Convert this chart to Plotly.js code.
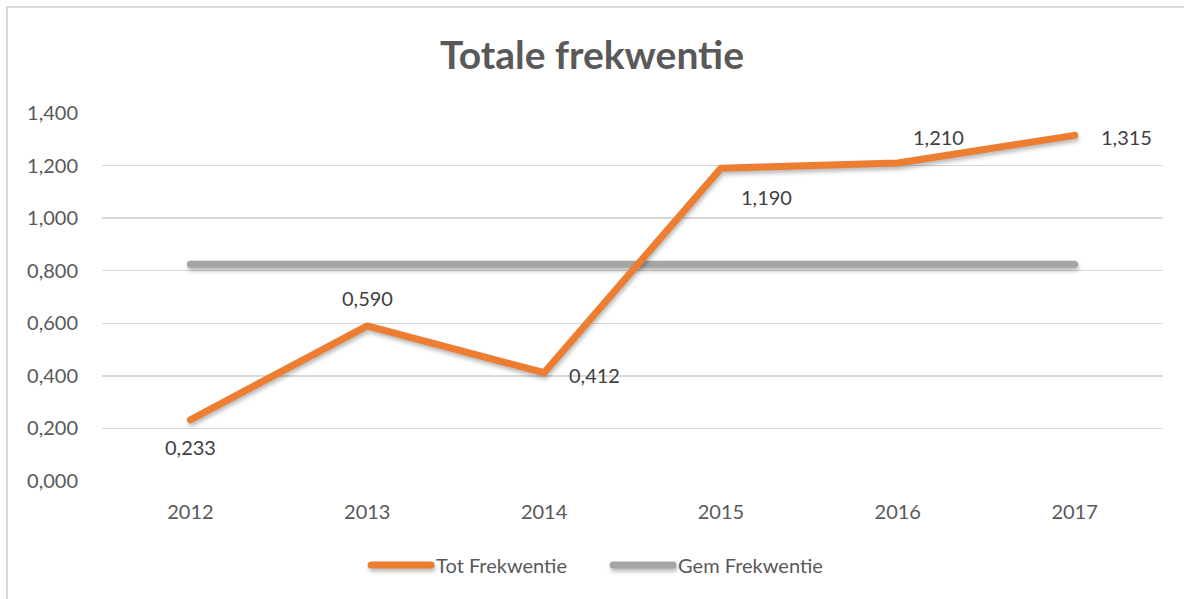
<!DOCTYPE html>
<html>
<head>
<meta charset="utf-8">
<script src="https://cdn.plot.ly/plotly-3.0.1.min.js"></script>
<style>
  html, body { margin: 0; padding: 0; background: #fff; overflow: hidden; }
  #frame { position: absolute; left: 6px; top: 6px; width: 1200px; height: 620px;
           border-left: 2px solid #d9d9d9; border-top: 2px solid #d9d9d9; }
  #chart { position: absolute; left: 0; top: 0; width: 1184px; height: 599px; }
  #chart path.js-line { stroke-linecap: round; stroke-linejoin: round;
           filter: drop-shadow(1px 3px 2px rgba(0,0,0,0.28)); }
  #chart .legendlines path { stroke-linecap: round; }
</style>
</head>
<body>
<div id="frame"></div>
<div id="chart"></div>
<script>
const years = ['2012', '2013', '2014', '2015', '2016', '2017'];
const totFrekwentie = [0.233, 0.590, 0.412, 1.190, 1.210, 1.315];
const gemFrekwentie = [0.825, 0.825, 0.825, 0.825, 0.825, 0.825];
const labelText = ['0,233', '0,590', '0,412', '1,190', '1,210', '1,315'];
const yTicks = [0, 0.2, 0.4, 0.6, 0.8, 1.0, 1.2, 1.4];

// label offsets (style only)
const labelShift = [[0, -27], [0, 28], [50, -2], [46, -29], [41, 26], [52, -2]];

const font = 'Lato, "Open Sans", sans-serif';
const grey = '#595959';

const traces = [
  {
    x: years, y: gemFrekwentie, name: 'Gem Frekwentie', type: 'scatter', mode: 'lines',
    line: { color: '#a5a5a5', width: 7 }
  },
  {
    x: years, y: totFrekwentie, name: 'Tot Frekwentie', type: 'scatter', mode: 'lines',
    line: { color: '#ed7d31', width: 7 }
  }
];

const annotations = years.map((yr, i) => ({
  x: i, y: totFrekwentie[i], xref: 'x', yref: 'y',
  text: labelText[i], showarrow: false,
  xshift: labelShift[i][0], yshift: labelShift[i][1],
  font: { family: font, size: 20, color: '#404040' }
}));

const layout = {
  width: 1184, height: 599,
  paper_bgcolor: 'rgba(0,0,0,0)', plot_bgcolor: 'rgba(0,0,0,0)',
  margin: { l: 101.5, r: 20.5, t: 113, b: 118 },
  separators: ',.',
  title: {
    text: '<b>Totale frekwentie</b>',
    font: { family: font, size: 39, color: grey },
    x: 0.5, xanchor: 'center', y: 0.908, yanchor: 'middle'
  },
  xaxis: {
    type: 'category', range: [-0.5, 5.5],
    showgrid: false, zeroline: false, showline: false, ticks: '',
    tickfont: { family: font, size: 20, color: grey },
    ticklabelstandoff: 17
  },
  yaxis: {
    range: [0, 1.4], tickvals: yTicks, tickformat: '.3f',
    showgrid: true, gridcolor: '#d9d9d9', gridwidth: 1.5,
    zeroline: false, showline: false, ticks: '',
    tickfont: { family: font, size: 20, color: grey },
    ticklabelstandoff: 23
  },
  showlegend: true,
  legend: {
    orientation: 'h', x: 0.477, xanchor: 'center', y: -0.228, yanchor: 'middle',
    font: { family: font, size: 20, color: grey },
    traceorder: 'reversed', itemwidth: 60,
    entrywidth: 167, entrywidthmode: 'pixels'
  },
  annotations: annotations
};

Plotly.newPlot('chart', traces, layout, { displayModeBar: false, staticPlot: true });
</script>
</body>
</html>
